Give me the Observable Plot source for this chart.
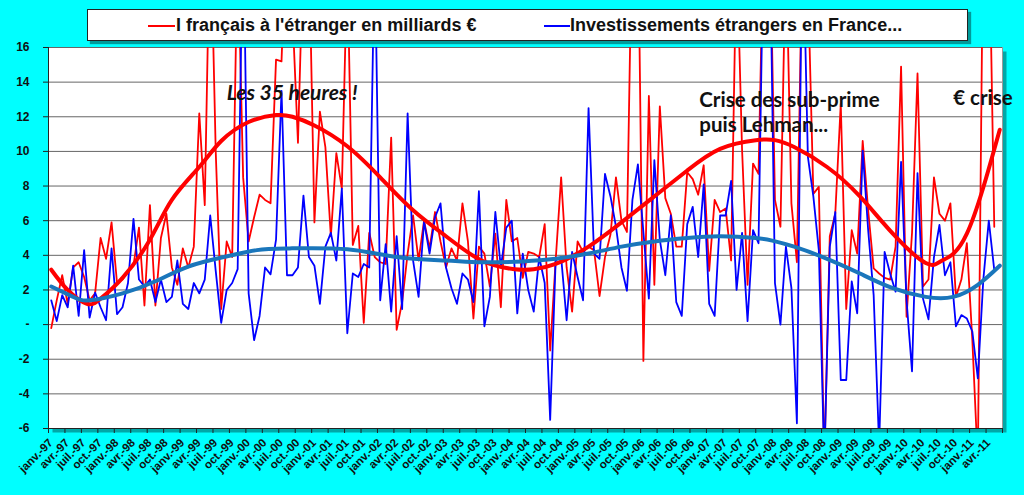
<!DOCTYPE html>
<html>
<head>
<meta charset="utf-8">
<script src="https://cdn.jsdelivr.net/npm/d3@7"></script>
<script src="https://cdn.jsdelivr.net/npm/@observablehq/plot@0.6"></script>
<style>
  html, body { margin: 0; padding: 0; background: #00ffff; }
  #wrap { position: relative; width: 1024px; height: 495px; overflow: hidden; }
  #chart { position: absolute; left: 0; top: 0; }
  #legend { position: absolute; left: 87px; top: 9px; width: 881px; height: 32px; box-sizing: border-box;
            border: 1px solid #222; background: #fff; box-shadow: 3px 3px 1px #009a9a; z-index: 2;
            font-family: "Liberation Sans", Arial, sans-serif; font-weight: bold; font-size: 18px; color: #111; }
  .sw { position: absolute; top: 15px; height: 2px; }
  .lt { position: absolute; top: 5px; white-space: nowrap; line-height: 20px; }
</style>
</head>
<body>
<div id="wrap">
  <div id="chart"></div>
  <div id="legend"></div>
</div>
<script>
// ---- data ----
const monthNames = ["janv.", "avr.", "juil.", "oct."];
const startYear = 1997;
const nQuarters = 58;

const seriesNames = ["I français à l'étranger en milliards €", "Investissements étrangers en France..."];

const frInvest = [
  -0.2, 1.4, 2.85, 1.2, 3.3, 3.6, 2.75, 1.4, 1.8, 5.0,
  3.8, 5.9, 2.4, 2.6, 3.1, 3.4, 5.6, 1.1, 6.9, 1.1,
  5.0, 6.4, 3.3, 2.3, 4.4, 3.3, 4.5, 12.2, 6.9, 24,
  10, 0.9, 4.8, 3.9, 22, 8.5, 4.8, 6.2, 7.5, 7.2,
  7.0, 15.3, 15.2, 24, 18, 10.5, 22, 22, 5.9, 12.3,
  10.25, 5.1, 9.9, 7.85, 21, 4.6, 5.7, 0.1, 5.3, 3.9,
  3.6, 3.5, 10.8, -0.3, 1.3, 4.1, 6.3, 3.7, 6.0, 4.4,
  6.5, 4.8, 3.3, 4.4, 3.7, 7.0, 4.8, 0.35, 4.5, 4.1,
  2.2, 5.25, 1.0, 7.2, 4.8, 5.0, 2.7, 4.2, 4.1, 3.9,
  5.8, -1.5, 3.7, 8.5, 3.3, 0.75, 4.8, 4.2, 4.5, 4.3,
  1.65, 3.9, 5.2, 8.5, 6.0, 5.35, 24, 24, -2.1, 13.2,
  2.3, 12.6, 7.3, 6.4, 4.5, 4.5, 8.8, 8.4, 7.5, 9.2,
  3.1, 7.2, 6.5, 6.7, 3.7, 22, 10.1, 2.3, 9.3, 8.7,
  24, 24, 7.2, 5.65, 22, 7.0, 3.6, 22, 20, 7.55,
  7.95, -8, 5.1, 6.4, 12.75, 0.9, 5.45, 4.1, 10.6, 6.6,
  3.25, 2.95, 2.7, 2.6, 4.5, 14.9, 0.45, 5.3, 14.5, 2.2,
  2.6, 8.5, 6.4, 6.0, 7.0, 1.6, 2.6, 4.7, -0.9, -8,
  24, 24, 5.65
];

const foreignInvest = [
  1.4, 0.2, 1.7, 1.0, 3.4, 0.5, 4.3, 0.4, 1.85, 1.0,
  0.25, 4.4, 0.6, 1.0, 2.4, 6.1, 2.6, 2.2, 2.6, 1.3,
  2.6, 1.3, 1.6, 3.7, 1.2, 0.9, 2.4, 1.8, 2.6, 6.3,
  3.1, 0.1, 2.0, 2.4, 3.2, 24, 1.8, -0.9, 0.5, 3.3,
  2.9, 4.9, 13.5, 2.85, 2.85, 3.3, 7.45, 3.9, 3.4, 1.2,
  4.5, 5.3, 3.7, 7.85, -0.5, 2.95, 2.75, 3.5, 3.3, 22,
  1.4, 4.65, 0.75, 5.1, 0.9, 12.2, 3.7, 1.6, 5.95, 4.1,
  6.2, 7.0, 3.3, 2.1, 1.2, 2.95, 2.6, 1.3, 7.7, -0.1,
  1.6, 6.5, 3.3, 5.6, 6.0, 0.65, 4.1, 2.0, 0.75, 3.9,
  2.4, -5.5, 3.7, 3.9, 0.25, 4.2, 2.75, 1.4, 12.5, 4.1,
  3.8, 8.7, 7.4, 5.65, 3.3, 1.95, 7.2, 9.25, 5.35, 1.5,
  9.5, 4.9, 2.85, 6.3, 1.3, 0.5, 5.8, 6.8, 3.9, 8.1,
  1.2, 0.5, 6.3, 6.3, 8.3, 2.0, 5.3, 0.2, 5.45, 4.7,
  24, 24, 2.4, 0.0, 4.5, 2.1, -5.7, 24, 9.7, 7.4,
  4.3, -8, 4.5, 6.5, -3.2, -3.2, 2.5, 0.65, 10.05, 5.45,
  1.7, -7, 4.2, 2.95, 1.9, 9.4, 1.4, -2.7, 8.75, 1.5,
  0.3, 3.9, 5.75, 2.85, 3.6, -0.1, 0.55, 0.35, -0.4, -3.1,
  2.6, 6.0, 3.15
];

// polynomial trend curves (read at sample months)
const frTrendMonth = [0, 3, 6.5, 9, 13, 18, 22, 27, 31, 36, 41, 44, 48, 54, 60, 66, 72, 78.5, 84.5, 88, 92, 98, 104, 110, 116, 122, 128.5, 132, 135.5, 141.5, 147.5, 153.5, 159.5, 162.5, 167, 173];
const frTrendValue = [3.17, 2.0, 1.2, 1.5, 2.7, 4.9, 7.2, 9.1, 10.6, 11.7, 12.1, 12.0, 11.5, 10.3, 8.5, 6.6, 5.1, 3.7, 3.2, 3.2, 3.5, 4.5, 5.9, 7.4, 8.9, 10.15, 10.65, 10.65, 10.25, 9.1, 7.4, 5.25, 3.55, 3.7, 5.25, 11.25];
const foTrendMonth = [0, 4, 7, 13, 19, 25, 31.5, 37.5, 43.5, 54, 63, 72, 78.5, 86, 92, 98, 104, 110, 116, 122, 128.5, 131.5, 135.5, 141.5, 147.5, 153.5, 159.5, 164.5, 169, 173];
const foTrendValue = [2.2, 1.6, 1.4, 1.8, 2.5, 3.35, 3.9, 4.3, 4.4, 4.35, 3.9, 3.7, 3.6, 3.65, 3.8, 4.1, 4.5, 4.8, 5.0, 5.1, 5.0, 4.85, 4.5, 3.8, 2.95, 2.1, 1.6, 1.6, 2.3, 3.4];

const yTicks = [-6, -4, -2, 0, 2, 4, 6, 8, 10, 12, 14, 16];

const notes = [
  {m: 32, v: 12.95, text: "Les 35 heures !", italic: true},
  {m: 118.2, v: 12.55, text: "Crise des sub-prime", italic: false},
  {m: 118.2, v: 11.1, text: "puis Lehman...", italic: false},
  {m: 164.5, v: 12.7, text: "€ crise", italic: false}
];

// ---- build tables ----
const fr = frInvest.map((v, i) => ({m: i, v}));
const fo = foreignInvest.map((v, i) => ({m: i, v}));
const frT = frTrendMonth.map((m, i) => ({m, v: frTrendValue[i]}));
const foT = foTrendMonth.map((m, i) => ({m, v: foTrendValue[i]}));
const quarterTicks = d3.range(nQuarters + 1).map(k => k * 3 - 0.5);
const quarterLabels = d3.range(nQuarters).map(k => {
  const y = startYear + Math.floor(k / 4);
  return {m: k * 3 - 0.5, label: monthNames[k % 4] + "-" + String(y % 100).padStart(2, "0")};
});

const chart = Plot.plot({
  width: 1024,
  height: 495,
  marginTop: 47,
  marginBottom: 67,
  marginLeft: 48,
  marginRight: 22,
  style: {background: "transparent", fontFamily: "'Liberation Sans', Arial, sans-serif", color: "#111"},
  x: {type: "linear", domain: [-0.5, 173.5], label: null},
  y: {type: "linear", domain: [-6, 16], label: null},
  marks: [
    Plot.frame({fill: "#00a8a8", stroke: null, dx: 4, dy: 4}),
    Plot.frame({fill: "white", stroke: null}),
    Plot.gridY(yTicks, {stroke: "#666", strokeOpacity: 1, strokeWidth: 1}),
    Plot.ruleX([173.5], {stroke: "#999"}),
    Plot.line(fr, {x: "m", y: "v", stroke: "#ff0000", strokeWidth: 1.8, clip: true}),
    Plot.line(fo, {x: "m", y: "v", stroke: "#0000ff", strokeWidth: 1.8, clip: true}),
    Plot.line(frT, {x: "m", y: "v", stroke: "#ff0000", strokeWidth: 4, curve: "natural"}),
    Plot.line(foT, {x: "m", y: "v", stroke: "#1a76bb", strokeWidth: 4, curve: "natural"}),
    Plot.ruleX([-0.5], {stroke: "#222", strokeWidth: 1}),
    Plot.ruleY([-6], {stroke: "#222", strokeWidth: 1}),
    Plot.axisY(yTicks, {tickSize: 5, tickPadding: 14, tickFormat: d => d === 0 ? "-" : String(d), fontSize: 12, fontWeight: "bold", stroke: "#222", label: null}),
    Plot.axisX(quarterTicks, {tickSize: 5, tickFormat: () => "", stroke: "#222", label: null}),
    Plot.text(quarterLabels, {x: "m", text: "label", frameAnchor: "bottom", rotate: -45, textAnchor: "end", dx: 5, dy: 15, fontSize: 11.5, fontWeight: "bold", fill: "#111"}),
    Plot.text(notes.filter(d => d.italic), {x: "m", y: "v", text: "text", textAnchor: "start", lineAnchor: "bottom", fontFamily: "Lato, 'Open Sans', sans-serif", fontWeight: "bold", fontStyle: "italic", fontSize: 21, fill: "#111"}),
    Plot.text(notes.filter(d => !d.italic), {x: "m", y: "v", text: "text", textAnchor: "start", lineAnchor: "bottom", fontFamily: "Lato, 'Open Sans', sans-serif", fontWeight: "bold", fontSize: 20.5, fill: "#111"})
  ]
});
document.getElementById("chart").appendChild(chart);

// ---- legend ----
const legend = document.getElementById("legend");
const legendItems = [
  {color: "#ff0000", swLeft: 60, swWidth: 27, textLeft: 88},
  {color: "#0000ff", swLeft: 456, swWidth: 26, textLeft: 482}
];
legendItems.forEach((it, i) => {
  const sw = document.createElement("div");
  sw.className = "sw";
  sw.style.left = it.swLeft + "px";
  sw.style.width = it.swWidth + "px";
  sw.style.background = it.color;
  legend.appendChild(sw);
  const t = document.createElement("div");
  t.className = "lt";
  t.style.left = it.textLeft + "px";
  t.textContent = seriesNames[i];
  legend.appendChild(t);
});
</script>
</body>
</html>
